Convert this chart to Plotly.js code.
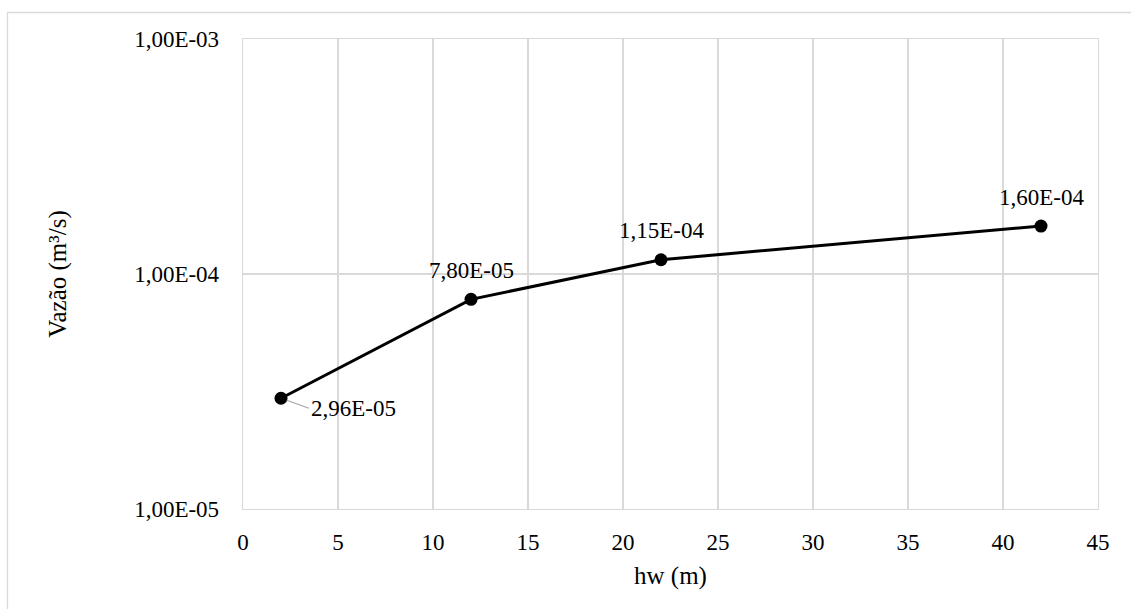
<!DOCTYPE html>
<html>
<head>
<meta charset="utf-8">
<script src="https://cdn.plot.ly/plotly-3.0.1.min.js"></script>
<style>
html,body{margin:0;padding:0;background:#fff;}
#chart{width:1131px;height:609px;}
#chart text{font-family:'Liberation Serif', serif !important;}
</style>
</head>
<body>
<div id="chart"></div>
<script>
const hw = [2, 12, 22, 42];
const vazao = [2.96e-5, 7.80e-5, 1.15e-4, 1.60e-4];
const pointLabels = ['2,96E-05', '7,80E-05', '1,15E-04', '1,60E-04'];
const xTicks = [0, 5, 10, 15, 20, 25, 30, 35, 40, 45];
const yTickVals = [1e-5, 1e-4, 1e-3];
const yTickText = ['1,00E-05', '1,00E-04', '1,00E-03'];

const FAM = 'Liberation Serif';
const trace = {
  x: hw, y: vazao, type: 'scatter', mode: 'lines+markers',
  line: {color: '#000', width: 3},
  marker: {color: '#000', size: 13},
  hoverinfo: 'none'
};

const annotations = hw.map((x, i) => {
  if (i === 0) {
    return {x: x, y: Math.log10(vazao[i]), xref: 'x', yref: 'y', text: pointLabels[i],
      showarrow: true, arrowhead: 0, arrowcolor: '#a6a6a6', arrowwidth: 1.2,
      ax: 28, ay: 10, xanchor: 'left', yanchor: 'middle', standoff: 6,
      font: {family: FAM, size: 23, color: '#000'}};
  }
  return {x: x, y: Math.log10(vazao[i]), xref: 'x', yref: 'y', text: pointLabels[i],
    showarrow: false, yshift: 29, font: {family: FAM, size: 23, color: '#000'}};
});

const layout = {
  width: 1131, height: 609,
  margin: {l: 243, r: 33, t: 39, b: 100},
  paper_bgcolor: '#fff', plot_bgcolor: '#fff',
  showlegend: false,
  font: {family: FAM, size: 23, color: '#000'},
  xaxis: {
    range: [0, 45], tickvals: xTicks, ticktext: xTicks.map(String),
    showgrid: true, gridcolor: '#d9d9d9', gridwidth: 1.3,
    zeroline: false, showline: true, linecolor: '#d9d9d9', linewidth: 1.3, mirror: true,
    ticks: '', ticklen: 0, ticklabelstandoff: 12,
    tickfont: {family: FAM, size: 23, color: '#000'},
    title: {text: 'hw (m)', font: {family: FAM, size: 25, color: '#000'}, standoff: 12}
  },
  yaxis: {
    type: 'log', range: [-5, -3], tickvals: yTickVals, ticktext: yTickText,
    showgrid: true, gridcolor: '#d9d9d9', gridwidth: 1.3,
    zeroline: false, showline: true, linecolor: '#d9d9d9', linewidth: 1.3, mirror: true,
    ticks: '', ticklen: 0, ticklabelstandoff: 18,
    tickfont: {family: FAM, size: 23, color: '#000'},
    title: {text: 'Vazão (m³/s)', font: {family: FAM, size: 25, color: '#000'}, standoff: 60}
  },
  annotations: annotations,
  shapes: [{
    type: 'rect', xref: 'paper', yref: 'paper',
    x0: (7.5 - 243) / 855, x1: (1140 - 243) / 855,
    y0: (509 - 620) / 470, y1: (509 - 12.5) / 470,
    line: {color: '#d9d9d9', width: 1.3}, fillcolor: 'rgba(0,0,0,0)', layer: 'below'
  }]
};

function draw() {
  Plotly.newPlot('chart', [trace], layout, {staticPlot: true, displayModeBar: false});
}
if (document.fonts && document.fonts.load) {
  document.fonts.load('23px "Liberation Serif"').then(draw, draw);
} else {
  draw();
}
</script>
</body>
</html>
